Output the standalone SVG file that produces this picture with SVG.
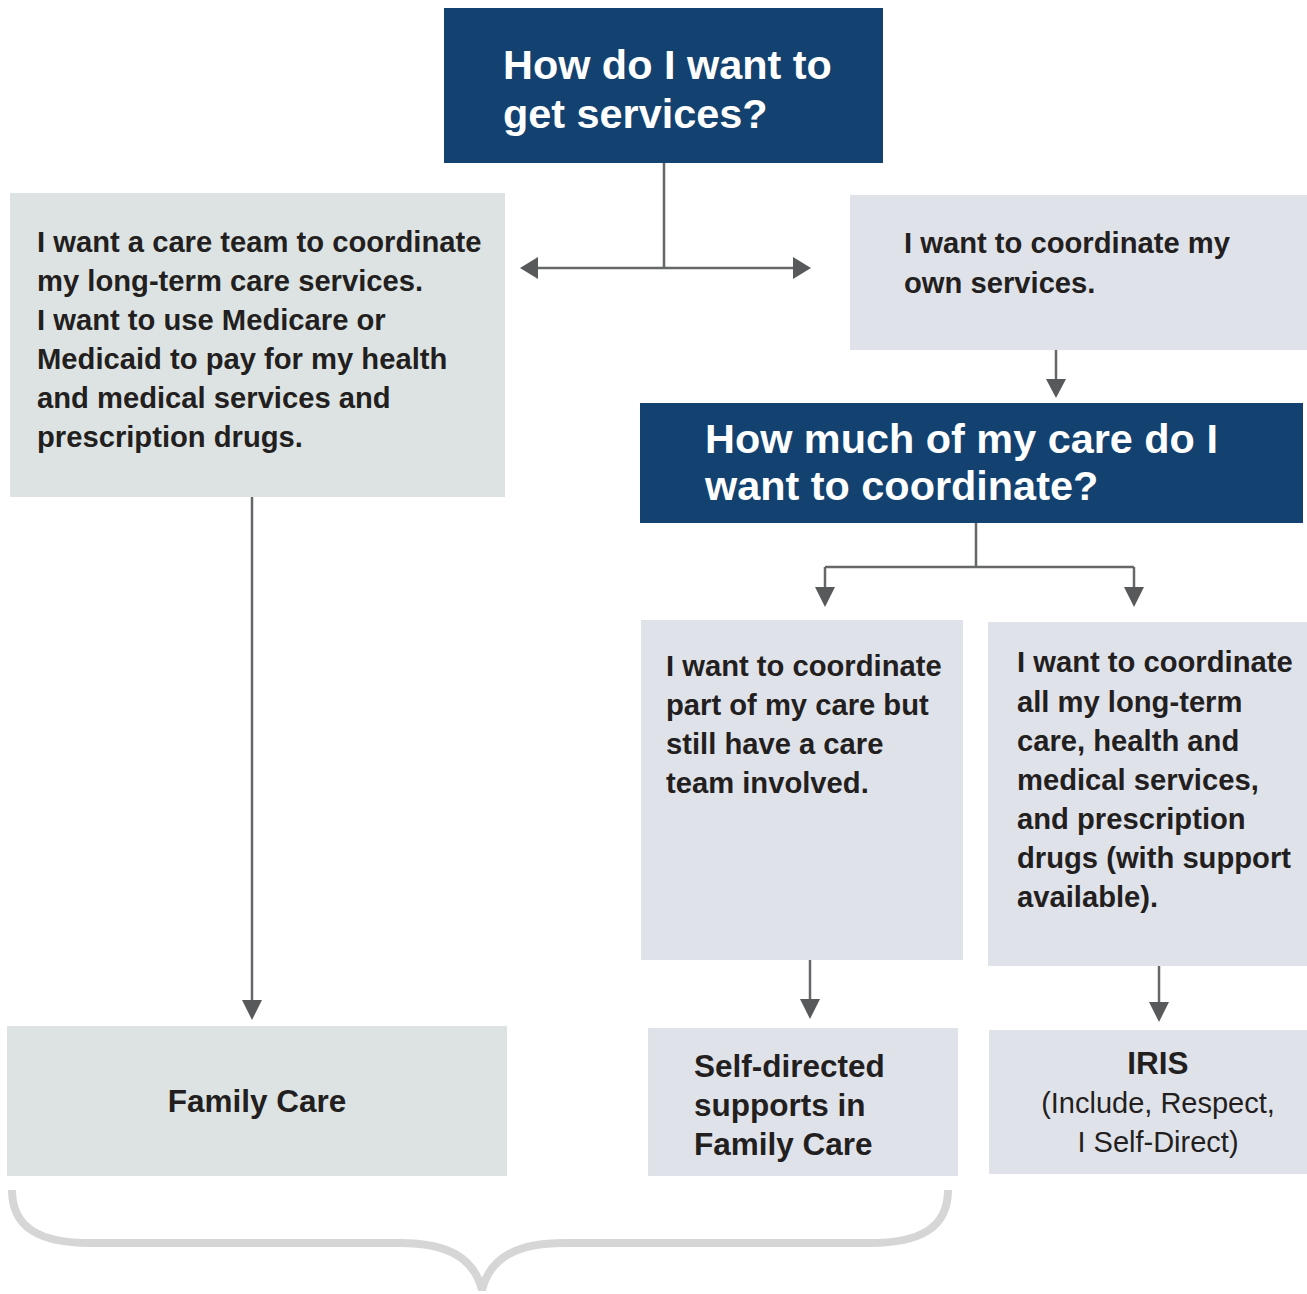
<svg xmlns="http://www.w3.org/2000/svg" width="1307" height="1294" viewBox="0 0 1307 1294">
<defs>
<style>
.q{fill:#134270}
.g{fill:#dde3e3}
.b{fill:#e0e2ea}
.qt{font-family:"Liberation Sans",Arial,sans-serif;font-weight:bold;font-size:41.4px;fill:#ffffff}
.t{font-family:"Liberation Sans",Arial,sans-serif;font-weight:bold;font-size:29.2px;fill:#231f20}
.big{font-size:31.5px}
.r{font-family:"Liberation Sans",Arial,sans-serif;font-size:29px;fill:#231f20}
.ln{stroke:#666769;stroke-width:2.5;fill:none}
.ah{fill:#58595b}
</style>
</defs>
<g id="connectors">
<path class="ln" d="M664 146V268M536 268H794"/>
<polygon class="ah" points="520,268 538,257 538,279"/>
<polygon class="ah" points="811,268 793,257 793,279"/>
<path class="ln" d="M1056 350V382"/>
<polygon class="ah" points="1056,398 1046,379 1066,379"/>
<path class="ln" d="M976 523V567M825 567H1134M825 567V590M1134 567V590"/>
<polygon class="ah" points="825,607 815,587 835,587"/>
<polygon class="ah" points="1134,607 1124,587 1144,587"/>
<path class="ln" d="M252 497V1004"/>
<polygon class="ah" points="252,1020 242,1000 262,1000"/>
<path class="ln" d="M810 960V1002"/>
<polygon class="ah" points="810,1019 800,999 820,999"/>
<path class="ln" d="M1159 966V1005"/>
<polygon class="ah" points="1159,1022 1149,1002 1169,1002"/>
</g>
<g id="q1">
<rect class="q" x="444" y="8" width="439" height="155"/>
<text class="qt"><tspan x="503" y="79">How do I want to</tspan><tspan x="503" y="128">get services?</tspan></text>
</g>
<g id="careTeam">
<rect class="g" x="10" y="193" width="495" height="304"/>
<text class="t"><tspan x="37" y="252">I want a care team to coordinate</tspan><tspan x="37" y="291">my long-term care services.</tspan><tspan x="37" y="330">I want to use Medicare or</tspan><tspan x="37" y="369">Medicaid to pay for my health</tspan><tspan x="37" y="408">and medical services and</tspan><tspan x="37" y="447">prescription drugs.</tspan></text>
</g>
<g id="ownServices">
<rect class="b" x="850" y="195" width="457" height="155"/>
<text class="t"><tspan x="904" y="253">I want to coordinate my</tspan><tspan x="904" y="293">own services.</tspan></text>
</g>
<g id="q2">
<rect class="q" x="640" y="403" width="663" height="120"/>
<text class="qt"><tspan x="705" y="453">How much of my care do I</tspan><tspan x="705" y="500">want to coordinate?</tspan></text>
</g>
<g id="part">
<rect class="b" x="641" y="620" width="322" height="340"/>
<text class="t"><tspan x="666" y="676">I want to coordinate</tspan><tspan x="666" y="715">part of my care but</tspan><tspan x="666" y="754">still have a care</tspan><tspan x="666" y="793">team involved.</tspan></text>
</g>
<g id="all">
<rect class="b" x="988" y="622" width="319" height="344"/>
<text class="t"><tspan x="1017" y="672">I want to coordinate</tspan><tspan x="1017" y="712">all my long-term</tspan><tspan x="1017" y="751">care, health and</tspan><tspan x="1017" y="790">medical services,</tspan><tspan x="1017" y="829">and prescription</tspan><tspan x="1017" y="868">drugs (with support</tspan><tspan x="1017" y="907">available).</tspan></text>
</g>
<g id="familyCare">
<rect class="g" x="7" y="1026" width="500" height="150"/>
<text class="t big" x="257" y="1112" text-anchor="middle">Family Care</text>
</g>
<g id="selfDirected">
<rect class="b" x="648" y="1028" width="310" height="148"/>
<text class="t big"><tspan x="694" y="1077">Self-directed</tspan><tspan x="694" y="1116">supports in</tspan><tspan x="694" y="1155">Family Care</tspan></text>
</g>
<g id="iris">
<rect class="b" x="989" y="1030" width="318" height="144"/>
<text class="t big" x="1158" y="1074" text-anchor="middle">IRIS</text>
<text class="r" text-anchor="middle"><tspan x="1158" y="1113">(Include, Respect,</tspan><tspan x="1158" y="1152">I Self-Direct)</tspan></text>
</g>
<g id="brace">
<path d="M12 1190C12 1228 40 1243 90 1243L400 1243C448 1243 474 1258 482 1290C490 1258 516 1243 564 1243L870 1243C920 1243 948 1228 948 1190" fill="none" stroke="#d6d6d6" stroke-width="8"/>
</g>
</svg>
